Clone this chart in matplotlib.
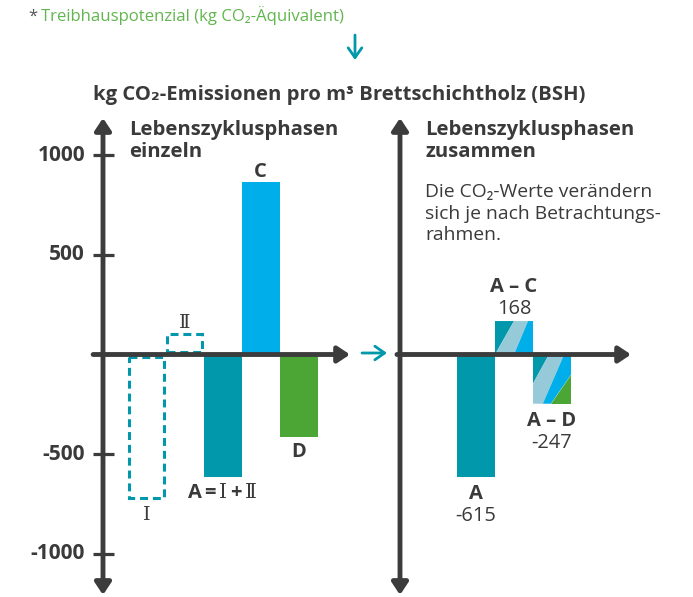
import numpy as np
import matplotlib
matplotlib.use('Agg')
import matplotlib.pyplot as plt
from matplotlib.patches import Polygon

plt.rcParams['font.family'] = ['Open Sans', 'Noto Sans CJK JP', 'DejaVu Sans']
plt.rcParams['mathtext.fontset'] = 'custom'
plt.rcParams['mathtext.rm'] = 'DejaVu Serif'

# Daten (kg CO2 pro m3 BSH)
einzeln_labels = ['Ⅰ', 'Ⅱ', 'A$\\,$=$\\,\\mathrm{Ⅰ}\\,$+$\\,\\mathrm{Ⅱ}$', 'C', 'D']
einzeln_werte = [-720, 105, -615, 868, -413]
zusammen_labels = ['A', 'A – C', 'A – D']
zusammen_werte = [-615, 168, -247]
y_ticks = [-1000, -500, 500, 1000]
y_tick_labels = ['-1000', '-500', '500', '1000']

TEAL = '#0098aa'
BLAU = '#00aee9'
GRUEN = '#4ba636'
STREIFEN = '#96cad9'
GRAU = '#3c3c3c'
TXT = '#3a3a3a'

W, H = 693, 597
fig = plt.figure(figsize=(W / 100, H / 100), dpi=100)


def rect(x0, y0, x1, y1):
    return [x0 / W, 1 - y1 / H, (x1 - x0) / W, (y1 - y0) / H]


def ftext(px, py, s, **kw):
    fig.text(px / W, 1 - py / H, s, va='baseline', **kw)


# Skala: 38 px pro Balken, 199.2 px pro 1000 kg
def achsen(x0, x1, y_achse):
    ax = fig.add_axes(rect(x0, 0, x1, H))
    ax.set_xlim((x0 - y_achse) / 38, (x1 - y_achse) / 38)
    ax.set_ylim((354.5 - H) / 0.1992, 354.5 / 0.1992)
    ax.axis('off')
    return ax


def pfeil(ax, p0, p1, style, lw=3.5, farbe=GRAU, ms=16, z=5, coords='data'):
    ax.annotate('', xy=p1, xytext=p0, xycoords=coords, textcoords=coords,
                arrowprops=dict(arrowstyle=style, color=farbe, lw=lw,
                                shrinkA=0, shrinkB=0, mutation_scale=ms),
                annotation_clip=False, zorder=z)


ax1 = achsen(0, 385, 103)
ax2 = achsen(385, W, 400)

# linke Seite: einzelne Phasen
x1 = 1.15 + np.arange(len(einzeln_werte))
farben = [None, None, TEAL, BLAU, GRUEN]
gap = 14
for x, w, f in zip(x1, einzeln_werte, farben):
    if f is None:
        s = np.sign(w)
        ax1.bar(x, w - s * gap, bottom=s * gap, width=0.92, fill=False,
                edgecolor=TEAL, linewidth=2.2, linestyle=(0, (2.6, 1.6)), zorder=2)
    else:
        ax1.bar(x, w, width=1.0, color=f, zorder=2)

lab_off = [-16, 4.3, -15, 3.6, -14.4]
for x, w, l, o in zip(x1, einzeln_werte, einzeln_labels, lab_off):
    if l in ('Ⅰ', 'Ⅱ'):
        kw = dict(family=['DejaVu Serif'], fontsize=14)
    else:
        kw = dict(fontsize=14.5, fontweight='bold')
    ax1.annotate(l, (x, w), xytext=(0, o), textcoords='offset points',
                 ha='center', va='baseline', color=TXT, **kw)

# rechte Seite: zusammen
x2 = 2 + np.arange(len(zusammen_werte))
ax2.bar(x2[0], zusammen_werte[0], width=1.0, color=TEAL, zorder=2)


def schraffur(ax, xc, wert, teile, breite=1.0):
    for farbe, pts in teile:
        xy = [(xc - breite / 2 + u * breite, v * wert) for u, v in pts]
        ax.add_patch(Polygon(xy, closed=True, facecolor=farbe, edgecolor='none', zorder=2))


schraffur(ax2, x2[1], zusammen_werte[1], [
    (TEAL, [(0, 0), (0.5, 1), (0, 1)]),
    (STREIFEN, [(0, 0), (0.5, 1), (0.87, 1), (0.5, 0)]),
    (BLAU, [(0.5, 0), (0.87, 1), (1, 1), (1, 0)]),
])
schraffur(ax2, x2[2], zusammen_werte[2], [
    (TEAL, [(0, 0), (0.42, 0), (0, 0.59)]),
    (STREIFEN, [(0.42, 0), (0.82, 0), (0.26, 1), (0, 1), (0, 0.59)]),
    (BLAU, [(0.82, 0), (1, 0), (1, 0.41), (0.47, 1), (0.26, 1)]),
    (GRUEN, [(0.47, 1), (1, 1), (1, 0.41)]),
])

for x, w, l in zip(x2, zusammen_werte, zusammen_labels):
    if w > 0:
        o_num, o_lab = 7, 29
    else:
        o_num, o_lab = -44, -22
    ax2.annotate(str(w), (x, w), xytext=(0, o_num * 0.72), textcoords='offset points',
                 ha='center', va='baseline', fontsize=14.4, color=TXT)
    ax2.annotate(l, (x, w), xytext=(0, o_lab * 0.72), textcoords='offset points',
                 ha='center', va='baseline', fontsize=14.5, fontweight='bold', color=TXT)

# Achsen mit Pfeilen
for ax, xr in ((ax1, (-0.26, 6.5)), (ax2, (-0.08, 6.08))):
    pfeil(ax, (0, -1207), (0, 1187), '<|-|>,head_length=0.45,head_width=0.3')
    pfeil(ax, (xr[0], 0), (xr[1], 0), '-|>,head_length=0.45,head_width=0.3')

for t, tl in zip(y_ticks, y_tick_labels):
    ax1.plot([-0.26, 0.29], [t, t], color=GRAU, lw=2.3, zorder=4, solid_capstyle='butt')
    ax1.text(-0.47, t, tl, ha='right', va='center', fontsize=15, fontweight='bold', color=TXT)

# Texte
ftext(28, 21, '*', fontsize=12, color='#555555')
ftext(41, 21, 'Treibhauspotenzial (kg CO₂-Äquivalent)', fontsize=12.1, color='#62b64f')
ftext(93, 100, 'kg CO₂-Emissionen pro m³ Brettschichtholz (BSH)', fontsize=14.6,
      fontweight='bold', color=TXT)
ftext(129, 135, 'Lebenszyklusphasen', fontsize=14.6, fontweight='bold', color=TXT)
ftext(129, 157, 'einzeln', fontsize=14.6, fontweight='bold', color=TXT)
ftext(425, 135, 'Lebenszyklusphasen', fontsize=14.6, fontweight='bold', color=TXT)
ftext(425, 157, 'zusammen', fontsize=14.6, fontweight='bold', color=TXT)
for py, s in zip((197, 219, 240), ('Die CO₂-Werte verändern',
                                   'sich je nach Betrachtungs-', 'rahmen.')):
    ftext(425, py, s, fontsize=13.9, color=TXT)

# Hinweis-Pfeile (türkis)
pfeil(ax1, (355, H - 35), (355, H - 60), '->,head_length=0.5,head_width=0.35',
      lw=2, farbe=TEAL, ms=14, coords='figure pixels')
pfeil(ax1, (362, H - 353), (387, H - 353), '->,head_length=0.5,head_width=0.35',
      lw=2, farbe=TEAL, ms=14, coords='figure pixels')

fig.savefig('out.png', dpi=100)
